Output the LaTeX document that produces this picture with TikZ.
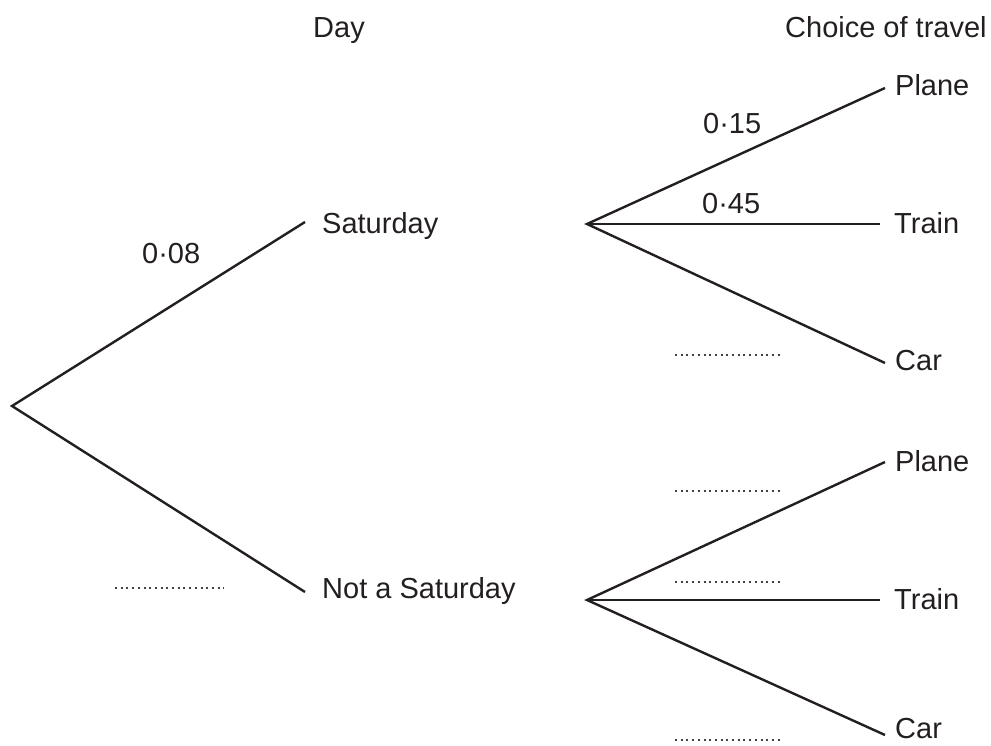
\documentclass[tikz,border=0pt]{standalone}
\usepackage{fontspec}
\setmainfont{Liberation Sans}
\definecolor{ink}{HTML}{231F20}
\begin{document}
\begin{tikzpicture}[x=1pt,y=-1pt,
  branch/.style={draw=ink,line width=2.4pt},
  lbl/.style={anchor=base west,inner sep=0pt,text=ink,font=\fontsize{29}{35}\selectfont},
  blank/.style={draw=ink!85,line width=2.2pt,dash pattern=on 2pt off 3.7pt}]
\useasboundingbox (0,0) rectangle (991,745);
% headings
\node[lbl] (day) at (313,37) {Day};
\node[lbl] (choice) at (785,37) {Choice of travel};
% points
\coordinate (root) at (12,406);
\coordinate (satend) at (305,222);
\coordinate (nsatend) at (305,592);
\coordinate (sato) at (587,224);
\coordinate (nsato) at (587,600);
\coordinate (p1) at (885,88);
\coordinate (t1) at (880,224);
\coordinate (c1) at (885,363);
\coordinate (p2) at (885,462);
\coordinate (t2) at (880,600);
\coordinate (c2) at (885,735);
% first level
\draw[branch] (satend) -- (root) -- (nsatend);
\node[lbl] (sat) at (322,233) {Saturday};
\node[lbl] (nsat) at (322,598) {Not a Saturday};
% second level
\draw[branch] (p1) -- (sato) -- (c1);
\draw[branch] (sato) -- (t1);
\draw[branch] (p2) -- (nsato) -- (c2);
\draw[branch] (nsato) -- (t2);
\node[lbl] (plane1) at (895,95) {Plane};
\node[lbl] (train1) at (894,233) {Train};
\node[lbl] (car1) at (895,370) {Car};
\node[lbl] (plane2) at (895,471) {Plane};
\node[lbl] (train2) at (894,609) {Train};
\node[lbl] (car2) at (895,738) {Car};
% probabilities
\node[lbl] (q08) at (142,263) {0·08};
\node[lbl] (q15) at (703,133) {0·15};
\node[lbl] (q45) at (702,213) {0·45};
% blanks
\coordinate (b0a) at (115,588); \coordinate (b0b) at (224,588);
\coordinate (b1a) at (675,355); \coordinate (b1b) at (783,355);
\coordinate (b2a) at (675,491); \coordinate (b2b) at (783,491);
\coordinate (b3a) at (675,582); \coordinate (b3b) at (783,582);
\coordinate (b4a) at (675,740); \coordinate (b4b) at (783,740);
\draw[blank] (b0a) -- (b0b);
\draw[blank] (b1a) -- (b1b);
\draw[blank] (b2a) -- (b2b);
\draw[blank] (b3a) -- (b3b);
\draw[blank] (b4a) -- (b4b);
\end{tikzpicture}
\end{document}
